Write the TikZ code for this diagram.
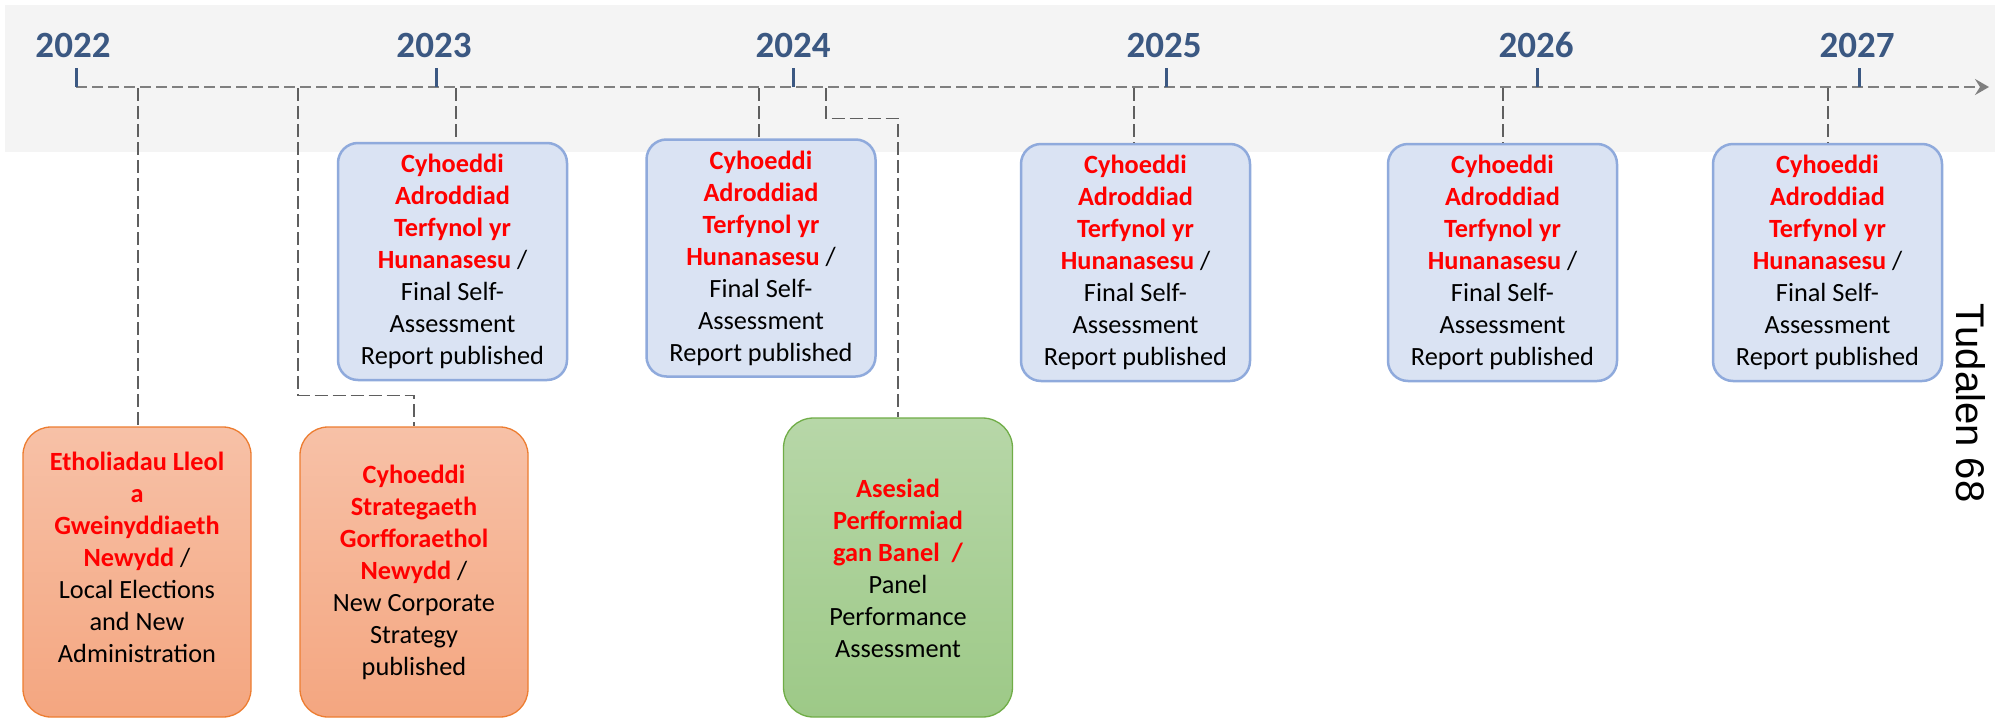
\documentclass[tikz,border=0pt]{standalone}
\usepackage{fontspec}
\setmainfont{Carlito}
\newfontfamily\tudfont{Liberation Sans}
\usetikzlibrary{arrows.meta,calc}
\definecolor{yearblue}{RGB}{59,88,130}
\definecolor{bandgrey}{RGB}{244,244,244}
\definecolor{lineg}{RGB}{127,127,127}
\definecolor{conng}{RGB}{95,95,95}
\definecolor{bfill}{RGB}{218,227,243}
\definecolor{bdraw}{RGB}{143,170,220}
\definecolor{otop}{RGB}{247,193,167}
\definecolor{obot}{RGB}{244,166,128}
\definecolor{odraw}{RGB}{237,125,49}
\definecolor{gtop}{RGB}{183,215,168}
\definecolor{gbot}{RGB}{157,201,135}
\definecolor{gdraw}{RGB}{112,173,71}
\definecolor{wred}{RGB}{255,0,0}
\newcommand\cyr[1]{\textcolor{wred}{\bfseries #1}}
\begin{document}
\begin{tikzpicture}[x=1pt,y=-1pt,
  yearlbl/.style={font=\fontsize{37}{40}\selectfont\bfseries, text=yearblue, inner sep=0pt},
  yeartick/.style={draw=yearblue, line width=3pt},
  timeline/.style={draw=lineg, line width=2.4pt, dash pattern=on 11pt off 5pt},
  conn/.style={draw=conng, line width=1.6pt, dash pattern=on 13pt off 5pt},
  boxtext/.style={align=center, font=\fontsize{26.3}{32}\selectfont, inner sep=0pt},
  bluebox/.style={boxtext, draw=bdraw, fill=bfill, line width=2.5pt, rounded corners=20pt,
    minimum width=229pt, minimum height=237pt},
  orangebox/.style={draw=odraw, top color=otop, bottom color=obot, line width=1.3pt,
    rounded corners=28pt, minimum width=228pt, minimum height=290pt, inner sep=0pt},
  greenbox/.style={draw=gdraw, top color=gtop, bottom color=gbot, line width=1.3pt,
    rounded corners=30pt, minimum width=229pt, minimum height=299pt, inner sep=0pt}
]
\useasboundingbox (0,0) rectangle (1995,718);
\fill[white] (0,0) rectangle (1995,718);
\fill[bandgrey] (5,5) rectangle (1995,152);

% year labels
\node[yearlbl] (y22) at (73,45) {2022};
\node[yearlbl] (y23) at (434,45) {2023};
\node[yearlbl] (y24) at (793,45) {2024};
\node[yearlbl] (y25) at (1164,45) {2025};
\node[yearlbl] (y26) at (1536,45) {2026};
\node[yearlbl] (y27) at (1857,45) {2027};

% timeline coordinates
\coordinate (t22) at (76,87);
\coordinate (t23) at (436,87);
\coordinate (t24) at (793,87);
\coordinate (t25) at (1166,87);
\coordinate (t26) at (1537,87);
\coordinate (t27) at (1859,87);
\coordinate (tend) at (1989,87);

% connector starts
\coordinate (c22) at (138,88);
\coordinate (cCorp) at (298,88);
\coordinate (cB1) at (456,88);
\coordinate (cB2) at (759,88);
\coordinate (cG) at (826,88);
\coordinate (cB3) at (1134,88);
\coordinate (cB4) at (1503,88);
\coordinate (cB5) at (1828,88);

% blue boxes
\node[bluebox] (B1) at (452.5,261.5) {\cyr{Cyhoeddi}\\ \cyr{Adroddiad}\\ \cyr{Terfynol yr}\\ \cyr{Hunanasesu} /\\ Final Self-\\ Assessment\\ Report published};
\node[bluebox] (B2) at (761,258) {\cyr{Cyhoeddi}\\ \cyr{Adroddiad}\\ \cyr{Terfynol yr}\\ \cyr{Hunanasesu} /\\ Final Self-\\ Assessment\\ Report published};
\node[bluebox] (B3) at (1135.5,262.5) {\cyr{Cyhoeddi}\\ \cyr{Adroddiad}\\ \cyr{Terfynol yr}\\ \cyr{Hunanasesu} /\\ Final Self-\\ Assessment\\ Report published};
\node[bluebox] (B4) at (1502.5,262.5) {\cyr{Cyhoeddi}\\ \cyr{Adroddiad}\\ \cyr{Terfynol yr}\\ \cyr{Hunanasesu} /\\ Final Self-\\ Assessment\\ Report published};
\node[bluebox] (B5) at (1827.5,262.5) {\cyr{Cyhoeddi}\\ \cyr{Adroddiad}\\ \cyr{Terfynol yr}\\ \cyr{Hunanasesu} /\\ Final Self-\\ Assessment\\ Report published};

% orange and green boxes
\node[orangebox] (O1) at (137,572) {};
\node[boxtext] (O1t) at (137,557) {\cyr{Etholiadau Lleol}\\ \cyr{a}\\ \cyr{Gweinyddiaeth}\\ \cyr{Newydd} /\\ Local Elections\\ and New\\ Administration};
\node[orangebox] (O2) at (414,572) {};
\node[boxtext] (O2t) at (414,572.5) {\cyr{Cyhoeddi}\\ \cyr{Strategaeth}\\ \cyr{Gorfforaethol}\\ \cyr{Newydd} /\\ New Corporate\\ Strategy\\ published};
\node[greenbox] (G) at (898,567.5) {};
\node[boxtext] (Gt) at (898,568) {\cyr{Asesiad}\\ \cyr{Perfformiad}\\ \cyr{gan Banel\ \ /}\\ Panel\\ Performance\\ Assessment};

% page label
\node[font=\tudfont\fontsize{40}{48}\selectfont, rotate=-90, inner sep=0pt] (pg) at (1971,403) {Tudalen 68};

% connectors
\draw[conn] (c22) -- (c22 |- O1.north);
\draw[conn] (cCorp) |- ($(O2.north)+(0,-31)$) -- (O2.north);
\draw[conn] (cB1) -- (cB1 |- B1.north);
\draw[conn] (cB2) -- (cB2 |- B2.north);
\draw[conn] (cG) |- ($(G.north)+(0,-299)$) -- (G.north);
\draw[conn] (cB3) -- (cB3 |- B3.north);
\draw[conn] (cB4) -- (cB4 |- B4.north);
\draw[conn] (cB5) -- (cB5 |- B5.north);

% timeline
\draw[timeline, -{Stealth[length=14pt,width=16pt,inset=5pt]}] (t22) -- (tend);
\foreach \t in {t22,t23,t24,t25,t26,t27}{
  \draw[yeartick] (\t) -- ($(\t)+(0,-19)$);
}
\end{tikzpicture}
\end{document}
